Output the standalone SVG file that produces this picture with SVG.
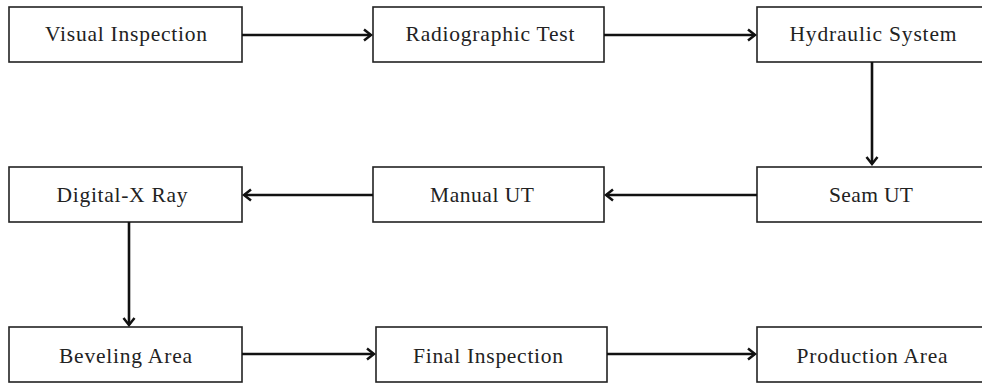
<svg xmlns="http://www.w3.org/2000/svg" width="982" height="384" viewBox="0 0 982 384">
  <defs>
    <marker id="arrow" markerWidth="12" markerHeight="14" refX="10" refY="7" orient="auto" markerUnits="userSpaceOnUse">
      <path d="M3,1.5 L10,7 L3,12.5" fill="none" stroke="#111" stroke-width="2.5"/>
    </marker>
  </defs>
  <style>
    rect { fill: #fff; stroke: #222; stroke-width: 1.6; }
    text { font-family: "Liberation Serif", "Times New Roman", serif; font-size: 21.5px; fill: #222; text-anchor: middle; }
    .conn line { stroke: #111; stroke-width: 2.6; marker-end: url(#arrow); }
  </style>
  <rect x="0" y="0" width="982" height="384" style="stroke:none"/>

  <g id="visual-inspection">
    <rect x="9" y="7" width="233" height="55"/>
    <text x="126" y="41" textLength="162" lengthAdjust="spacing">Visual Inspection</text>
  </g>
  <g id="radiographic-test">
    <rect x="373" y="7" width="231" height="55"/>
    <text x="490" y="41" textLength="169" lengthAdjust="spacing">Radiographic Test</text>
  </g>
  <g id="hydraulic-system">
    <rect x="757" y="7" width="233" height="55"/>
    <text x="873" y="41" textLength="167" lengthAdjust="spacing">Hydraulic System</text>
  </g>

  <g id="digital-x-ray">
    <rect x="9" y="167" width="233" height="55"/>
    <text x="122" y="202" textLength="131" lengthAdjust="spacing">Digital-X Ray</text>
  </g>
  <g id="manual-ut">
    <rect x="373" y="167" width="231" height="55"/>
    <text x="482" y="202" textLength="104" lengthAdjust="spacing">Manual UT</text>
  </g>
  <g id="seam-ut">
    <rect x="757" y="167" width="233" height="55"/>
    <text x="871" y="202" textLength="84" lengthAdjust="spacing">Seam UT</text>
  </g>

  <g id="beveling-area">
    <rect x="9" y="327" width="233" height="55"/>
    <text x="125.5" y="363" textLength="133" lengthAdjust="spacing">Beveling Area</text>
  </g>
  <g id="final-inspection">
    <rect x="376" y="327" width="231" height="55"/>
    <text x="488" y="363" textLength="150" lengthAdjust="spacing">Final Inspection</text>
  </g>
  <g id="production-area">
    <rect x="757" y="327" width="233" height="55"/>
    <text x="872" y="363" textLength="151" lengthAdjust="spacing">Production Area</text>
  </g>

  <g class="conn" id="connectors">
    <line x1="242" y1="35" x2="371" y2="35"/>
    <line x1="604" y1="35" x2="755" y2="35"/>
    <line x1="872" y1="62" x2="872" y2="164"/>
    <line x1="757" y1="195" x2="606" y2="195"/>
    <line x1="373" y1="195" x2="244" y2="195"/>
    <line x1="129" y1="222" x2="129" y2="325"/>
    <line x1="242" y1="354" x2="374" y2="354"/>
    <line x1="607" y1="354" x2="755" y2="354"/>
  </g>
</svg>
